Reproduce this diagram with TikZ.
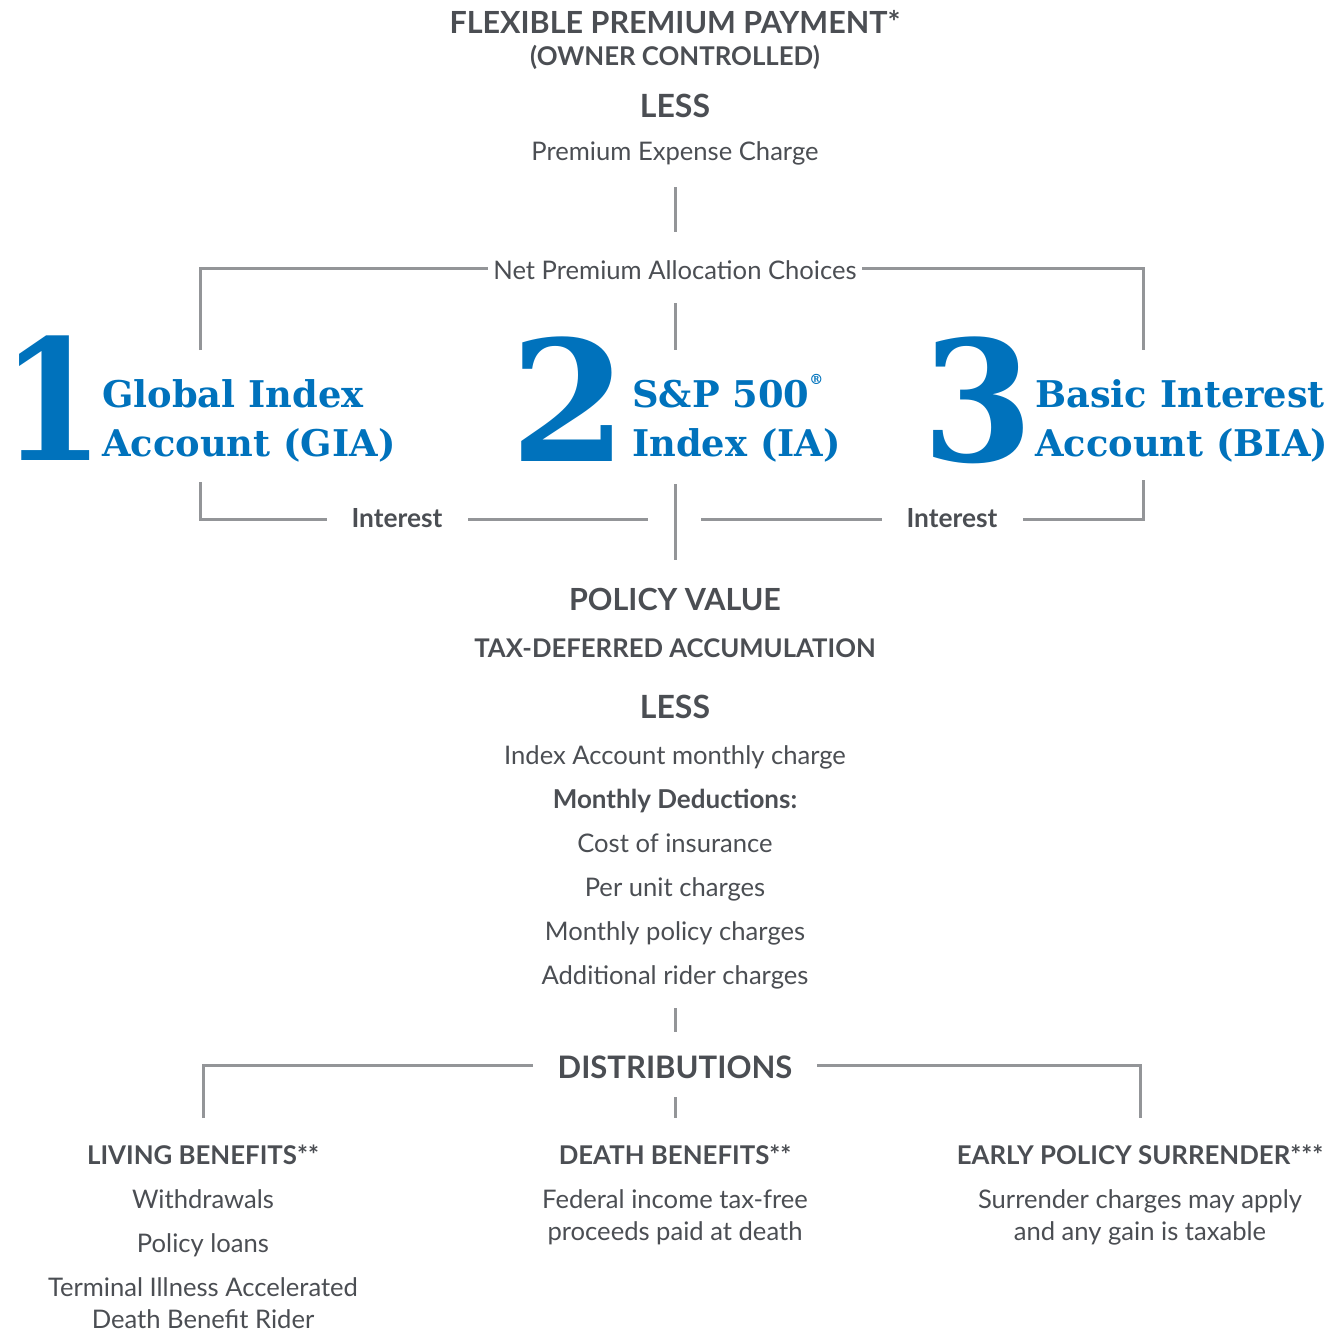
\documentclass[tikz,border=0pt]{standalone}
\usepackage{fontspec}
\setmainfont{Lato}
\newfontfamily\slab{DejaVu Serif}
\definecolor{txtgray}{HTML}{4B4E53}
\definecolor{linegray}{HTML}{939598}
\definecolor{acctblue}{HTML}{0072BC}
\newcommand{\fs}[1]{\fontsize{#1}{#1}\selectfont}
\begin{document}
\begin{tikzpicture}[x=1pt,y=-1pt,
  body/.style={text=txtgray, inner sep=0pt, anchor=base, font=\fs{25.6}},
  head/.style={text=txtgray, inner sep=0pt, anchor=base, font=\bfseries\fs{#1}},
  head/.default=25.8,
  numeral/.style={text=acctblue, inner sep=0pt, anchor=base west, font=\slab\bfseries\fs{168}},
  acct/.style={text=acctblue, inner sep=0pt, anchor=base west, font=\slab\bfseries\fs{36.8}},
  conn/.style={draw=linegray, line width=3pt}]
\useasboundingbox (0,0) rectangle (1336,1331);
% top
\node[head=30.5] (flex) at (675,33) {FLEXIBLE PREMIUM PAYMENT*};
\node[head=25.8] (owner) at (675,65) {(OWNER CONTROLLED)};
\node[head=32] (less1) at (675,117) {LESS};
\node[body] (pec) at (675,160) {Premium Expense Charge};
\coordinate (t1) at (675,187);
\coordinate (t2) at (675,232);
\draw[conn] (t1) -- (t2);
\node[body] (npac) at (675,279) {Net Premium Allocation Choices};
\coordinate (lt) at (200,268);
\coordinate (rt) at (1143,268);
\coordinate (lb) at (200,350);
\coordinate (rb) at (1143,350);
\coordinate (ngl) at (488,268);
\coordinate (ngr) at (862,268);
\coordinate (mt) at (675,303);
\coordinate (mb) at (675,350);
\draw[conn] (lb) -- (lt) -- (ngl);
\draw[conn] (ngr) -- (rt) -- (rb);
\draw[conn] (mt) -- (mb);
% accounts
\node[numeral] (n1) at (1,460) {\scalebox{0.88}[1]{1}};
\node[acct] (a1a) at (102,407) {Global Index};
\node[acct] (a1b) at (102,456) {Account (GIA)};
\node[numeral] (n2) at (510,461) {2};
\node[numeral] (n3) at (922,461) {\scalebox{0.95}[1]{3}};
\node[acct] (a2a) at (632,407) {S\&P 500\raisebox{0.6em}{\fs{14}®}};
\node[acct] (a2b) at (632,456) {Index (IA)};
\node[acct] (a3a) at (1035,407) {Basic Interest};
\node[acct] (a3b) at (1035,456) {Account (BIA)};
% interest
\node[head=26.3] (int1) at (397,527) {Interest};
\node[head=26.3] (int2) at (952,527) {Interest};
\coordinate (l1t) at (200,482);
\coordinate (l1c) at (200,519);
\coordinate (l1e) at (327,519);
\coordinate (l2s) at (468,519);
\coordinate (l2e) at (648,519);
\coordinate (m2t) at (675,484);
\coordinate (m2b) at (675,560);
\coordinate (r2s) at (701,519);
\coordinate (r2e) at (882,519);
\coordinate (r1s) at (1023,519);
\coordinate (r1c) at (1143,519);
\coordinate (r1t) at (1143,480);
\draw[conn] (l1t) -- (l1c) -- (l1e);
\draw[conn] (l2s) -- (l2e);
\draw[conn] (m2t) -- (m2b);
\draw[conn] (r2s) -- (r2e);
\draw[conn] (r1s) -- (r1c) -- (r1t);
% policy value
\node[head=30.5] (pv) at (675,610) {POLICY VALUE};
\node[head=25.7] (tax) at (675,657) {TAX-DEFERRED ACCUMULATION};
\node[head=32] (less2) at (675,718) {LESS};
\node[body] (iamc) at (675,764) {Index Account monthly charge};
\node[head=26] (md) at (675,808) {Monthly Deductions:};
\node[body] (coi) at (675,852) {Cost of insurance};
\node[body] (puc) at (675,896) {Per unit charges};
\node[body] (mpc) at (675,940) {Monthly policy charges};
\node[body] (arc) at (675,984) {Additional rider charges};
\coordinate (d1) at (675,1008);
\coordinate (d2) at (675,1032);
\draw[conn] (d1) -- (d2);
% distributions
\node[head=31] (dist) at (675,1078) {DISTRIBUTIONS};
\coordinate (dlb) at (203,1118);
\coordinate (dlt) at (203,1065);
\coordinate (dle) at (533,1065);
\coordinate (drs) at (817,1065);
\coordinate (drt) at (1140,1065);
\coordinate (drb) at (1140,1118);
\coordinate (dmt) at (675,1097);
\coordinate (dmb) at (675,1118);
\draw[conn] (dlb) -- (dlt) -- (dle);
\draw[conn] (drs) -- (drt) -- (drb);
\draw[conn] (dmt) -- (dmb);
% columns
\node[head] (lbh) at (203,1164) {LIVING BENEFITS**};
\node[body] (wd) at (203,1208) {Withdrawals};
\node[body] (pl) at (203,1252) {Policy loans};
\node[body] (ti1) at (203,1296) {Terminal Illness Accelerated};
\node[body] (ti2) at (203,1328) {Death Benefit Rider};
\node[head] (dbh) at (675,1164) {DEATH BENEFITS**};
\node[body] (fi1) at (675,1208) {Federal income tax-free};
\node[body] (fi2) at (675,1240) {proceeds paid at death};
\node[head] (eph) at (1140,1164) {EARLY POLICY SURRENDER***};
\node[body] (sc1) at (1140,1208) {Surrender charges may apply};
\node[body] (sc2) at (1140,1240) {and any gain is taxable};
\end{tikzpicture}
\end{document}
